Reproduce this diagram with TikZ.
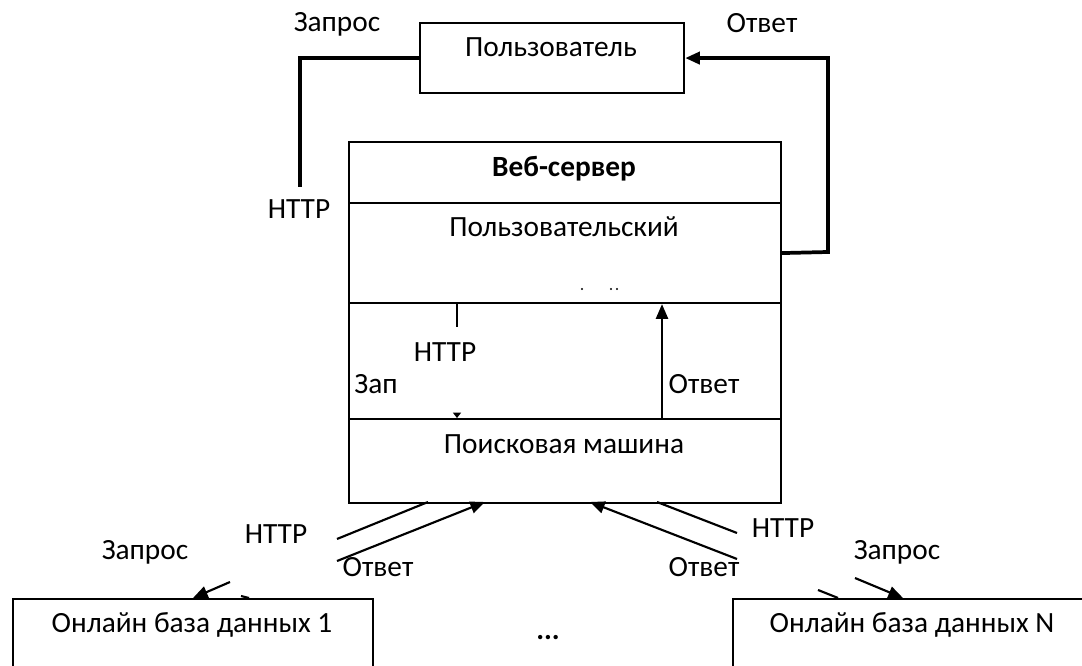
\documentclass[tikz,border=0pt]{standalone}
\usepackage{fontspec}
\setmainfont{Carlito}
\usetikzlibrary{arrows.meta}
\begin{document}
\begin{tikzpicture}[x=0.75pt,y=-0.75pt,
  box/.style={draw,line width=1.6pt,rectangle,inner sep=0pt,anchor=north west},
  lbl/.style={inner sep=0pt,text height=0.644em,text depth=0pt,font=\fontsize{22}{26}\selectfont},
  thk/.style={line width=2.8pt},
  thn/.style={line width=1.6pt},
  tip/.style={-{Triangle[length=11pt,width=9pt]}},
]
\useasboundingbox (0,0) rectangle (1082,666);
\clip (0,0) rectangle (1082,666);
% boxes
\node[box,minimum width=264*0.75pt,minimum height=70*0.75pt] (user) at (419,22) {};
\node[box,minimum width=432*0.75pt,minimum height=61*0.75pt] (web) at (348,141) {};
\node[box,minimum width=432*0.75pt,minimum height=100*0.75pt] (ui) at (348,202) {};
\node[box,minimum width=432*0.75pt,minimum height=116*0.75pt] (mid) at (348,302) {};
\node[box,minimum width=432*0.75pt,minimum height=84*0.75pt] (se) at (348,418) {};
\node[box,minimum width=360*0.75pt,minimum height=120*0.75pt] (db1) at (12,598) {};
\node[box,minimum width=400*0.75pt,minimum height=120*0.75pt] (dbn) at (732,598) {};
% box texts
\node[lbl] (tuser) at (551,52) {Пользователь};
\node[lbl,font=\fontsize{22}{26}\selectfont\bfseries] (tweb) at (564,172) {Веб-сервер};
\node[lbl] (tui) at (564,232) {Пользовательский};
\node[lbl] (tse) at (564,449) {Поисковая машина};
\node[lbl] (tdb1) at (192,628) {Онлайн база данных 1};
\node[lbl] (tdbn) at (912,628) {Онлайн база данных N};
\node[lbl,font=\fontsize{22}{26}\selectfont\bfseries] (dots) at (548,635) {...};
% tiny fragments
\fill (582,289) circle (1.1);
\fill (611,289) circle (1.1);
\fill (617,289) circle (1.1);
% labels
\node[lbl] (l1) at (337,27) {Запрос};
\node[lbl] (l2) at (762,28) {Ответ};
\node[lbl] (l3) at (299,214) {HTTP};
\node[lbl] (l4) at (445,357) {HTTP};
\node[lbl] (l5) at (376,389) {Зап};
\node[lbl] (l6) at (704,389) {Ответ};
\node[lbl] (l7) at (276,539) {HTTP};
\node[lbl] (l8) at (145,555) {Запрос};
\node[lbl] (l9) at (378,572) {Ответ};
\node[lbl] (l10) at (783,533) {HTTP};
\node[lbl] (l11) at (897,555) {Запрос};
\node[lbl] (l12) at (704,572) {Ответ};
% coordinates
\coordinate (c1) at (300,187);
\coordinate (c2) at (828,252);
\coordinate (c3) at (457,327);
\coordinate (x3) at (457,0);
\coordinate (c3b) at (457,413);
\coordinate (x4) at (662,0);
\coordinate (a1) at (428,502);
\coordinate (a2) at (337,539);
\coordinate (b1) at (337,561);
\coordinate (b2) at (485,502);
\coordinate (a3) at (657,502);
\coordinate (a4) at (737,533);
\coordinate (b3) at (737,559);
\coordinate (b4) at (590,502);
\coordinate (q1) at (230,582);
\coordinate (q1t) at (193,598);
\coordinate (q2) at (855,578);
\coordinate (q2t) at (903,598);
% connectors
\draw[thk] (user.west) -| (c1);
\draw[thk,tip] (ui.east) -- (c2) |- (user.east);
\draw[thn] (ui.south -| x3) -- (c3);
\draw[line width=0.8pt,-{Triangle[length=4pt,width=6pt]}] (c3b) -- (se.north -| x3);
\draw[thn,tip] (se.north -| x4) -- (ui.south -| x4);
\draw[thn] (a1) -- (a2);
\draw[thn,tip] (b1) -- (b2);
\draw[thn] (a3) -- (a4);
\draw[thn,tip] (b3) -- (b4);
\draw[thn,tip] (q1) -- (q1t);
\draw[thn,tip] (q2) -- (q2t);
\draw[thn] (241,596) -- (249,598);
\draw[thn] (818,590) -- (838,598);
\end{tikzpicture}
\end{document}
